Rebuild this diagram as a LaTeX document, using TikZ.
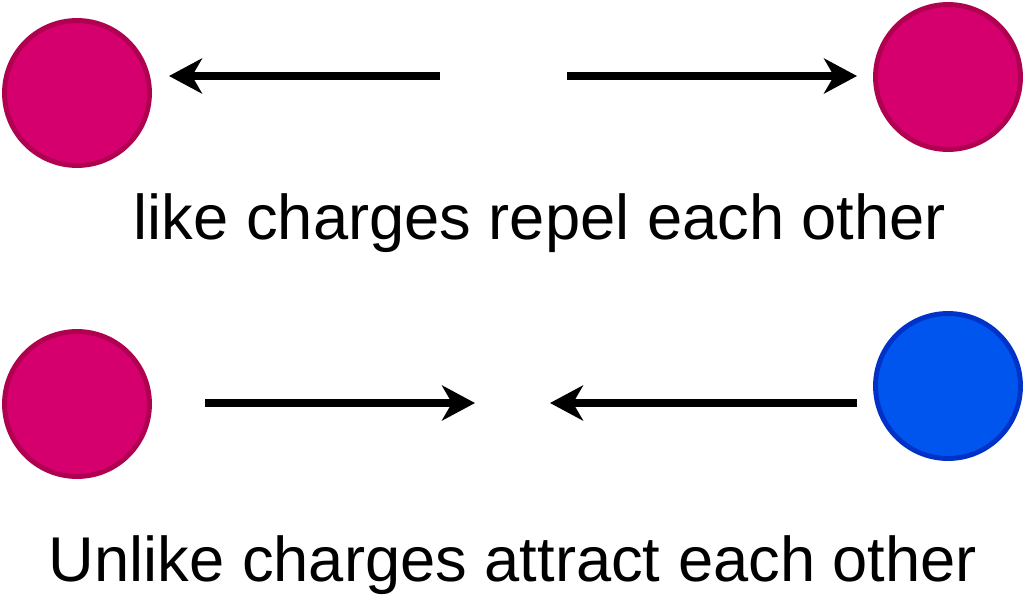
\documentclass[tikz,border=0pt]{standalone}
\usepackage{fontspec}
\setmainfont{Liberation Sans}
\usetikzlibrary{arrows.meta}

\definecolor{chargered}{RGB}{213,0,110}
\definecolor{chargereddark}{RGB}{176,0,80}
\definecolor{chargeblue}{RGB}{0,85,238}
\definecolor{chargebluedark}{RGB}{0,50,200}

\begin{document}
\begin{tikzpicture}[x=0.02cm, y=-0.02cm, line cap=butt]

% --- Global TikZ Styles ---
\tikzset{
    redcharge/.style={
        circle,
        fill=chargered,
        draw=chargereddark,
        line width=2.8pt,
        minimum size=2.9cm,
        inner sep=0pt
    },
    bluecharge/.style={
        circle,
        fill=chargeblue,
        draw=chargebluedark,
        line width=2.8pt,
        minimum size=2.9cm,
        inner sep=0pt
    },
    force/.style={
        -{Stealth[length=0.66cm, width=0.7cm, inset=0.2cm]},
        line width=4.3pt,
        draw=black
    },
    caption/.style={
        anchor=base,
        font=\fontsize{36}{42}\selectfont
    }
}

\useasboundingbox (0,0) rectangle (1024,596);

% =========================================================================
% --- Boven: gelijke ladingen stoten elkaar af ---
% =========================================================================
\node[redcharge] (qleft) at (77,93) {};
\node[redcharge] (qright) at (948,77) {};

\coordinate (repelL) at (440,76);
\coordinate (repelLtip) at (169,76);
\coordinate (repelR) at (567,76);
\coordinate (repelRtip) at (857,76);

\draw[force] (repelL) -- (repelLtip);
\draw[force] (repelR) -- (repelRtip);

\node[caption] (liketext) at (540,239) {like charges repel each other};

% =========================================================================
% --- Onder: ongelijke ladingen trekken elkaar aan ---
% =========================================================================
\node[redcharge] (pleft) at (77,404) {};
\node[bluecharge] (pright) at (948,386) {};

\coordinate (attractL) at (205,403);
\coordinate (attractLtip) at (475,403);
\coordinate (attractR) at (857,403);
\coordinate (attractRtip) at (550,403);

\draw[force] (attractL) -- (attractLtip);
\draw[force] (attractR) -- (attractRtip);

\node[caption] (unliketext) at (513,581) {Unlike charges attract each other};

\end{tikzpicture}
\end{document}
